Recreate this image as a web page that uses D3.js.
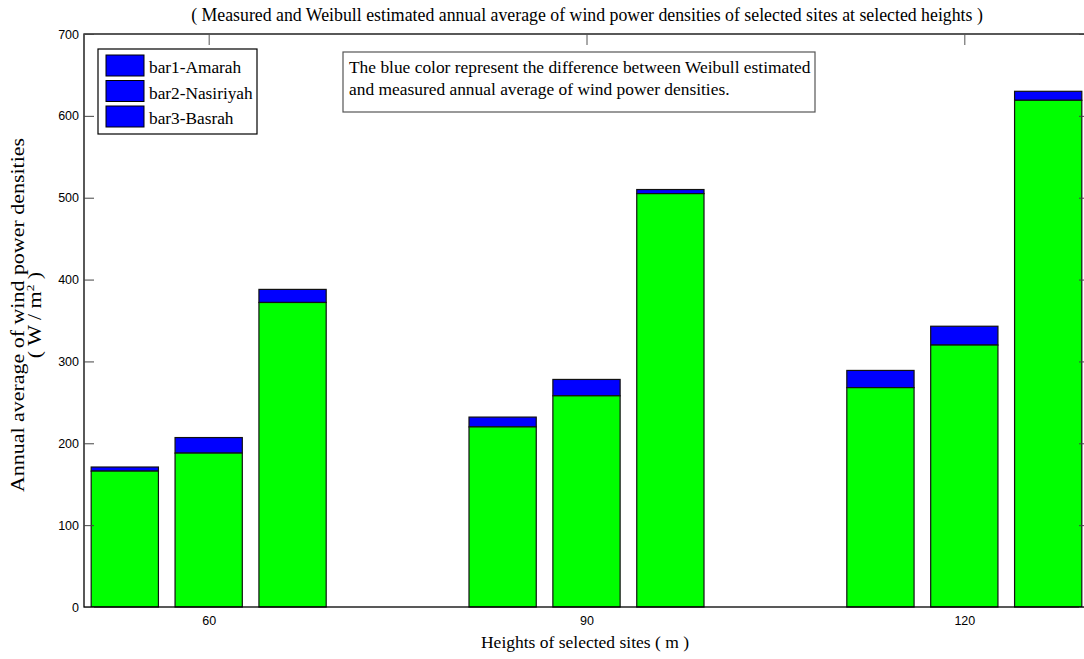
<!DOCTYPE html>
<html>
<head>
<meta charset="utf-8">
<script src="https://cdn.jsdelivr.net/npm/d3@7"></script>
<style>
  html, body { margin: 0; padding: 0; background: #fff; overflow: hidden; }
  svg { display: block; }
</style>
</head>
<body>
<svg id="chart" width="1084" height="659"></svg>
<script>
// Heights of the selected sites (m)
const heights = ["60", "90", "120"];
// Sites drawn as the three bars of each group
const sites = ["bar1-Amarah", "bar2-Nasiriyah", "bar3-Basrah"];
// Measured annual average wind power density (W/m²), one row per height, one column per site
const measured = [
  [166, 188, 372],
  [220, 258, 505],
  [268, 320, 619]
];
// Weibull estimated annual average wind power density (W/m²)
const weibull = [
  [171, 207, 388],
  [232, 278, 510],
  [289, 343, 630]
];
const yTicks = [0, 100, 200, 300, 400, 500, 600, 700];

const svg = d3.select("#chart");
const serif = "'Liberation Serif', 'Times New Roman', serif";
const sans = "'Liberation Sans', Arial, sans-serif";

// Axes box (right edge runs just past the page edge)
const plot = { left: 84, right: 1089, top: 34, bottom: 607 };

const x = d3.scaleLinear().domain([0.67, 3.33]).range([plot.left, plot.right]);
const y = d3.scaleLinear().domain([0, 700]).range([plot.bottom, plot.top]);

const barStep = 0.222, barWidth = 0.178;

// One record per bar
const bars = [];
heights.forEach((h, gi) => {
  sites.forEach((s, si) => {
    bars.push({ g: gi + 1, si, meas: measured[gi][si], est: weibull[gi][si] });
  });
});
const bx = d => x(d.g + (d.si - 1) * barStep - barWidth / 2);
const bw = x(barWidth) - x(0);

// Title
svg.append("text")
  .attr("x", 587).attr("y", 21)
  .attr("text-anchor", "middle")
  .attr("font-family", serif).attr("font-size", 17.8)
  .text("( Measured and Weibull estimated annual average of wind power densities of selected sites at selected heights )");

const g = svg.append("g");

// Blue: difference between Weibull estimate and measurement, stacked on top
g.selectAll("rect.diff").data(bars).join("rect")
  .attr("class", "diff")
  .attr("x", bx).attr("width", bw)
  .attr("y", d => y(d.est)).attr("height", d => y(d.meas) - y(d.est))
  .attr("fill", "#0000ff").attr("stroke", "#111").attr("stroke-width", 1.2);

// Green: measured value
g.selectAll("rect.meas").data(bars).join("rect")
  .attr("class", "meas")
  .attr("x", bx).attr("width", bw)
  .attr("y", d => y(d.meas)).attr("height", d => y(0) - y(d.meas))
  .attr("fill", "#00ff00").attr("stroke", "#111").attr("stroke-width", 1.2);

// Axes frame
const axisG = svg.append("g");
axisG.append("rect")
  .attr("x", plot.left).attr("y", plot.top)
  .attr("width", plot.right - plot.left).attr("height", plot.bottom - plot.top)
  .attr("fill", "none").attr("stroke", "#000").attr("stroke-width", 1.3);

// Left y axis
const yAxis = d3.axisLeft(y).tickValues(yTicks).tickSize(-10).tickPadding(5);
const ya = axisG.append("g").attr("transform", `translate(${plot.left},0)`).call(yAxis);
ya.select(".domain").remove();
ya.selectAll(".tick line").attr("stroke", "#444");
ya.selectAll(".tick text").attr("font-family", sans).attr("font-size", 12.5).attr("fill", "#000");

// Right-side ticks
const yr = axisG.append("g").attr("transform", `translate(${plot.right},0)`)
  .call(d3.axisRight(y).tickValues(yTicks).tickSize(-10).tickFormat(""));
yr.select(".domain").remove();
yr.selectAll(".tick line").attr("stroke", "#444");

// Bottom x axis labels
const xa = axisG.append("g").attr("transform", `translate(0,${plot.bottom})`)
  .call(d3.axisBottom(x).tickValues([1, 2, 3]).tickFormat((d, i) => heights[i]).tickSize(0).tickPadding(9));
xa.select(".domain").remove();
xa.selectAll(".tick text").attr("font-family", sans).attr("font-size", 12.5).attr("fill", "#000");

// Top ticks
const xt = axisG.append("g").attr("transform", `translate(0,${plot.top})`)
  .call(d3.axisTop(x).tickValues([1, 2, 3]).tickSize(-11).tickFormat(""));
xt.select(".domain").remove();
xt.selectAll(".tick line").attr("stroke", "#555");

// Axis titles
svg.append("text")
  .attr("x", 585).attr("y", 648)
  .attr("text-anchor", "middle")
  .attr("font-family", serif).attr("font-size", 17.5)
  .text("Heights of selected sites ( m )");

const yl = svg.append("g").attr("transform", "translate(0,315) rotate(-90) scale(1.22,1)");
yl.append("text")
  .attr("x", 0).attr("y", 24)
  .attr("text-anchor", "middle")
  .attr("font-family", serif).attr("font-size", 18)
  .text("Annual average of wind power densities");
const yl2 = yl.append("text")
  .attr("x", 0).attr("y", 41)
  .attr("text-anchor", "middle")
  .attr("font-family", serif).attr("font-size", 18);
yl2.append("tspan").text("( W / m");
yl2.append("tspan").attr("dy", -7).attr("font-size", 11).text("2");
yl2.append("tspan").attr("dy", 7).text(" )");

// Legend
const leg = svg.append("g").attr("transform", "translate(98,49)");
leg.append("rect").attr("width", 159).attr("height", 85)
  .attr("fill", "#fff").attr("stroke", "#000").attr("stroke-width", 1.2);
sites.forEach((s, i) => {
  leg.append("rect")
    .attr("x", 8).attr("y", 6 + i * 25.5).attr("width", 38).attr("height", 21)
    .attr("fill", "#0000ff").attr("stroke", "#000").attr("stroke-width", 1);
  leg.append("text")
    .attr("x", 51).attr("y", 24 + i * 25.5)
    .attr("font-family", serif).attr("font-size", 17.3)
    .text(s);
});

// Annotation box
const note = svg.append("g").attr("transform", "translate(343,52)");
note.append("rect").attr("width", 472).attr("height", 60)
  .attr("fill", "#fff").attr("stroke", "#555").attr("stroke-width", 1.2);
note.append("text").attr("x", 6).attr("y", 21)
  .attr("font-family", serif).attr("font-size", 17.4)
  .text("The blue color represent the difference between Weibull estimated");
note.append("text").attr("x", 6).attr("y", 43)
  .attr("font-family", serif).attr("font-size", 17.4)
  .text("and measured annual average of wind power densities.");
</script>
</body>
</html>
